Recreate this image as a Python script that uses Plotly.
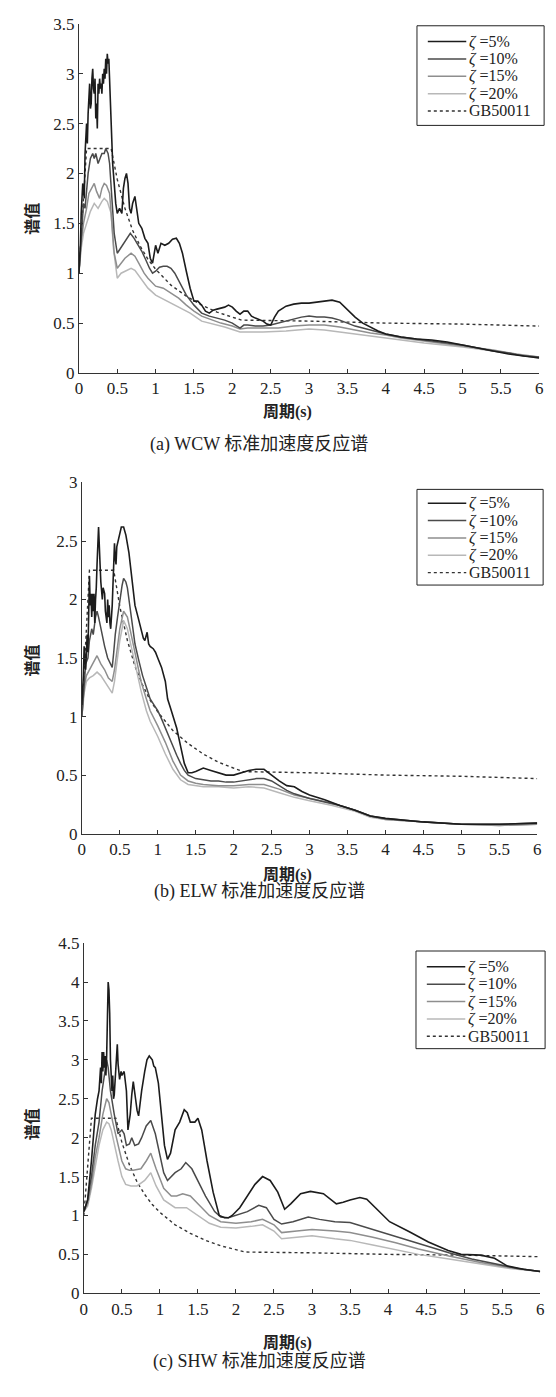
import plotly.graph_objects as go

# ---- Spectral values (period T in s, normalised spectral value) ----
# (a) WCW
WCW_5 = [(0,1.0),(0.02,1.3),(0.03,1.6),(0.05,1.9),(0.07,1.75),(0.08,2.2),(0.1,2.5),(0.11,2.3),(0.12,2.6),(0.13,2.75),
         (0.14,2.9),(0.15,2.65),(0.16,2.7),(0.17,2.95),(0.18,3.05),(0.19,2.85),(0.2,2.8),(0.21,2.95),(0.22,2.55),(0.23,2.7),
         (0.24,2.45),(0.25,2.9),(0.26,2.8),(0.27,2.95),(0.28,2.85),(0.29,2.9),(0.3,2.8),(0.31,3.0),(0.32,2.9),(0.33,3.05),
         (0.34,2.95),(0.35,3.15),(0.36,3.0),(0.37,3.2),(0.38,3.1),(0.39,3.15),(0.4,2.9),(0.42,2.6),(0.44,2.1),(0.46,1.9),
         (0.48,1.7),(0.5,1.6),(0.53,1.65),(0.56,1.6),(0.58,1.85),(0.6,1.95),(0.62,2.0),(0.64,1.9),(0.66,1.65),(0.68,1.6),
         (0.7,1.7),(0.73,1.77),(0.75,1.65),(0.78,1.5),(0.82,1.45),(0.86,1.35),(0.9,1.3),(0.93,1.15),(0.96,1.1),(0.98,1.2),
         (1.0,1.28),(1.03,1.2),(1.07,1.3),(1.12,1.28),(1.17,1.3),(1.22,1.34),(1.27,1.35),(1.31,1.3),(1.35,1.2),(1.4,1.02),
         (1.45,0.85),(1.5,0.72),(1.55,0.72),(1.6,0.68),(1.65,0.62),(1.7,0.6),(1.75,0.63),(1.8,0.64),(1.9,0.66),(1.95,0.68),
         (2.0,0.66),(2.05,0.62),(2.1,0.59),(2.15,0.62),(2.2,0.62),(2.25,0.57),(2.3,0.55),(2.4,0.52),(2.45,0.49),(2.5,0.48),
         (2.55,0.56),(2.6,0.62),(2.7,0.67),(2.8,0.69),(2.9,0.7),(3.0,0.7),(3.1,0.71),(3.2,0.72),(3.3,0.73),(3.4,0.71),
         (3.5,0.63),(3.6,0.56),(3.7,0.5),(3.8,0.46),(3.9,0.42),(4.0,0.39),(4.2,0.36),(4.4,0.34),(4.6,0.33),(4.8,0.31),
         (5.0,0.28),(5.2,0.25),(5.4,0.22),(5.6,0.19),(5.8,0.17),(6.0,0.15)]
WCW_10 = [(0,1.0),(0.03,1.4),(0.06,1.7),(0.08,1.65),(0.1,1.85),(0.12,2.0),(0.15,2.15),(0.18,2.2),(0.2,2.15),(0.22,2.2),
          (0.25,2.1),(0.28,2.15),(0.3,2.2),(0.33,2.2),(0.35,2.25),(0.38,2.2),(0.4,2.1),(0.43,1.75),(0.46,1.4),(0.5,1.2),
          (0.54,1.25),(0.58,1.3),(0.62,1.35),(0.67,1.4),(0.72,1.35),(0.76,1.3),(0.82,1.22),(0.88,1.12),(0.92,1.05),(0.96,1.0),
          (1.0,1.02),(1.05,1.06),(1.1,1.07),(1.15,1.07),(1.2,1.05),(1.25,1.0),(1.3,0.93),(1.35,0.85),(1.4,0.78),(1.5,0.68),
          (1.6,0.6),(1.7,0.57),(1.8,0.55),(1.9,0.53),(2.0,0.5),(2.1,0.45),(2.15,0.48),(2.2,0.48),(2.3,0.47),(2.4,0.47),
          (2.5,0.48),(2.6,0.5),(2.7,0.52),(2.8,0.54),(2.9,0.56),(3.0,0.57),(3.1,0.56),(3.2,0.56),(3.3,0.55),(3.4,0.53),
          (3.5,0.5),(3.6,0.47),(3.7,0.45),(3.8,0.43),(3.9,0.41),(4.0,0.39),(4.2,0.36),(4.4,0.34),(4.6,0.32),(4.8,0.3),
          (5.0,0.28),(5.2,0.25),(5.4,0.22),(5.6,0.2),(5.8,0.17),(6.0,0.16)]
WCW_15 = [(0,1.0),(0.03,1.3),(0.06,1.5),(0.1,1.65),(0.13,1.8),(0.16,1.85),(0.2,1.9),(0.23,1.82),(0.27,1.75),(0.3,1.85),
          (0.33,1.9),(0.36,1.88),(0.4,1.8),(0.43,1.5),(0.46,1.2),(0.5,1.05),(0.55,1.1),(0.6,1.15),(0.68,1.2),(0.73,1.17),
          (0.78,1.1),(0.85,1.0),(0.9,0.95),(1.0,0.87),(1.1,0.85),(1.2,0.8),(1.3,0.75),(1.4,0.68),(1.5,0.62),(1.6,0.57),
          (1.7,0.54),(1.85,0.5),(2.0,0.47),(2.1,0.44),(2.2,0.45),(2.4,0.45),(2.6,0.45),(2.8,0.47),(3.0,0.48),(3.2,0.48),
          (3.4,0.46),(3.6,0.43),(3.8,0.4),(4.0,0.38),(4.2,0.35),(4.4,0.33),(4.6,0.31),(4.9,0.28),(5.2,0.25),(5.4,0.23),
          (5.7,0.19),(6.0,0.16)]
WCW_20 = [(0,1.0),(0.03,1.25),(0.06,1.4),(0.1,1.5),(0.15,1.62),(0.2,1.7),(0.25,1.65),(0.3,1.72),(0.33,1.75),(0.37,1.72),
          (0.42,1.6),(0.45,1.25),(0.5,0.95),(0.55,1.0),(0.6,1.02),(0.68,1.05),(0.73,1.03),(0.78,0.98),(0.9,0.85),(1.0,0.78),
          (1.1,0.74),(1.2,0.7),(1.3,0.66),(1.45,0.6),(1.6,0.52),(1.75,0.49),(1.9,0.46),(2.1,0.41),(2.25,0.41),(2.4,0.41),
          (2.7,0.42),(3.0,0.44),(3.2,0.43),(3.4,0.41),(3.6,0.39),(3.8,0.37),(4.0,0.35),(4.5,0.3),(5.0,0.26),(5.5,0.21),
          (6.0,0.15)]

# (b) ELW
ELW_5 = [(0,1.1),(0.02,1.35),(0.03,1.6),(0.05,1.4),(0.07,1.7),(0.08,1.55),(0.1,2.2),(0.11,1.95),(0.12,2.05),(0.13,1.85),
         (0.14,2.05),(0.15,1.9),(0.16,2.05),(0.17,1.8),(0.18,2.0),(0.19,2.1),(0.2,2.3),(0.22,2.62),(0.24,2.3),(0.25,2.15),
         (0.27,2.0),(0.28,2.1),(0.3,2.05),(0.31,1.9),(0.33,1.8),(0.34,2.0),(0.35,1.85),(0.36,1.95),(0.37,1.8),(0.38,1.75),
         (0.4,1.95),(0.41,2.1),(0.43,2.48),(0.44,2.35),(0.45,2.3),(0.46,2.45),(0.48,2.5),(0.5,2.55),(0.52,2.62),(0.55,2.62),
         (0.58,2.55),(0.62,2.4),(0.66,2.15),(0.7,1.95),(0.74,1.85),(0.78,1.75),(0.81,1.67),(0.83,1.65),(0.86,1.72),(0.88,1.62),
         (0.9,1.6),(0.94,1.58),(0.97,1.55),(1.0,1.5),(1.05,1.42),(1.1,1.3),(1.13,1.15),(1.17,1.07),(1.2,1.0),(1.25,0.9),
         (1.3,0.75),(1.35,0.6),(1.4,0.52),(1.45,0.52),(1.5,0.53),(1.6,0.56),(1.7,0.54),(1.8,0.52),(1.9,0.5),(2.0,0.5),
         (2.1,0.52),(2.2,0.54),(2.3,0.55),(2.4,0.55),(2.5,0.5),(2.6,0.45),(2.7,0.41),(2.8,0.4),(2.9,0.36),(3.0,0.33),
         (3.2,0.29),(3.4,0.24),(3.6,0.2),(3.8,0.15),(4.0,0.13),(4.5,0.1),(5.0,0.08),(5.5,0.08),(6.0,0.09)]
ELW_10 = [(0,1.0),(0.03,1.3),(0.05,1.45),(0.08,1.5),(0.1,1.65),(0.13,1.75),(0.15,1.7),(0.18,1.85),(0.2,1.9),(0.22,1.85),
          (0.25,1.75),(0.28,1.65),(0.3,1.6),(0.34,1.5),(0.38,1.45),(0.4,1.42),(0.42,1.55),(0.44,1.7),(0.47,1.85),(0.5,2.0),
          (0.53,2.12),(0.55,2.18),(0.58,2.15),(0.6,2.1),(0.63,1.95),(0.66,1.8),(0.7,1.62),(0.75,1.48),(0.8,1.35),(0.85,1.25),
          (0.9,1.15),(0.95,1.1),(1.0,1.05),(1.05,0.98),(1.1,0.9),(1.15,0.82),(1.2,0.75),(1.25,0.67),(1.3,0.6),(1.35,0.54),
          (1.4,0.5),(1.5,0.47),(1.6,0.46),(1.7,0.45),(1.8,0.45),(1.9,0.44),(2.0,0.44),(2.1,0.45),(2.2,0.46),(2.3,0.47),
          (2.4,0.47),(2.5,0.45),(2.6,0.41),(2.7,0.37),(2.8,0.34),(2.9,0.32),(3.0,0.3),(3.2,0.27),(3.4,0.24),(3.6,0.2),
          (3.8,0.15),(4.0,0.13),(4.5,0.1),(5.0,0.08),(5.5,0.08),(6.0,0.09)]
ELW_15 = [(0,1.0),(0.03,1.25),(0.06,1.35),(0.1,1.4),(0.15,1.45),(0.2,1.52),(0.25,1.45),(0.3,1.4),(0.35,1.33),(0.4,1.3),
          (0.43,1.4),(0.47,1.6),(0.5,1.75),(0.55,1.9),(0.6,1.85),(0.65,1.7),(0.7,1.55),(0.78,1.3),(0.85,1.15),(0.9,1.05),
          (1.0,0.92),(1.1,0.78),(1.2,0.62),(1.3,0.5),(1.4,0.45),(1.5,0.43),(1.6,0.42),(1.8,0.41),(2.0,0.41),(2.2,0.42),
          (2.4,0.42),(2.6,0.38),(2.8,0.33),(3.0,0.3),(3.3,0.26),(3.6,0.2),(3.8,0.15),(4.0,0.12),(4.5,0.1),(5.0,0.08),
          (5.5,0.07),(6.0,0.08)]
ELW_20 = [(0,1.0),(0.03,1.2),(0.06,1.3),(0.1,1.33),(0.15,1.35),(0.2,1.38),(0.25,1.35),(0.3,1.3),(0.35,1.25),(0.4,1.2),
          (0.43,1.3),(0.47,1.5),(0.5,1.65),(0.55,1.82),(0.6,1.75),(0.65,1.6),(0.7,1.45),(0.78,1.22),(0.85,1.05),(0.9,0.96),
          (1.0,0.83),(1.1,0.68),(1.2,0.55),(1.3,0.46),(1.4,0.42),(1.6,0.4),(1.8,0.4),(2.0,0.39),(2.2,0.4),(2.4,0.39),
          (2.6,0.35),(2.8,0.31),(3.0,0.28),(3.3,0.24),(3.6,0.19),(3.8,0.14),(4.0,0.12),(4.5,0.1),(5.0,0.08),(5.5,0.07),
          (6.0,0.08)]

# (c) SHW
SHW_5 = [(0,1.05),(0.05,1.2),(0.1,1.7),(0.13,2.1),(0.15,2.3),(0.18,2.5),(0.2,2.6),(0.22,2.9),(0.23,2.7),(0.24,3.1),
         (0.25,2.85),(0.26,3.1),(0.27,2.9),(0.28,3.05),(0.29,2.8),(0.3,3.05),(0.31,3.5),(0.32,4.0),(0.33,3.9),(0.34,3.6),
         (0.35,3.0),(0.36,2.7),(0.37,2.6),(0.38,2.8),(0.39,2.5),(0.4,2.55),(0.42,2.9),(0.44,3.2),(0.45,2.95),(0.47,2.75),
         (0.49,2.85),(0.5,2.8),(0.53,2.85),(0.56,2.6),(0.58,2.1),(0.61,2.3),(0.63,2.55),(0.65,2.72),(0.68,2.5),(0.7,2.35),
         (0.72,2.28),(0.74,2.45),(0.76,2.6),(0.8,2.85),(0.83,3.0),(0.86,3.05),(0.9,3.0),(0.92,2.92),(0.94,2.9),(0.98,2.7),
         (1.02,2.3),(1.06,1.9),(1.1,1.72),(1.14,1.8),(1.2,2.1),(1.26,2.2),(1.32,2.36),(1.36,2.32),(1.4,2.2),(1.46,2.2),
         (1.5,2.25),(1.55,2.1),(1.62,1.7),(1.7,1.3),(1.78,1.0),(1.85,0.97),(1.9,0.97),(1.95,1.0),(2.05,1.1),(2.15,1.25),
         (2.25,1.4),(2.35,1.5),(2.45,1.45),(2.55,1.3),(2.64,1.08),(2.72,1.15),(2.85,1.28),(2.98,1.31),(3.15,1.28),(3.32,1.15),
         (3.41,1.17),(3.5,1.2),(3.63,1.23),(3.72,1.21),(3.8,1.13),(3.89,1.04),(4.02,0.92),(4.28,0.79),(4.53,0.66),(4.79,0.55),
         (4.96,0.5),(5.22,0.49),(5.4,0.45),(5.57,0.35),(5.78,0.31),(6.0,0.28)]
SHW_10 = [(0,1.05),(0.05,1.2),(0.1,1.5),(0.15,1.9),(0.2,2.2),(0.24,2.6),(0.27,2.8),(0.3,3.0),(0.32,2.9),(0.35,2.6),
          (0.4,2.3),(0.45,2.05),(0.5,2.1),(0.53,2.05),(0.56,1.9),(0.6,1.92),(0.63,2.0),(0.67,1.9),(0.72,1.92),(0.76,2.0),
          (0.82,2.15),(0.88,2.22),(0.94,2.05),(1.0,1.75),(1.05,1.55),(1.1,1.45),(1.15,1.5),(1.2,1.55),(1.28,1.6),(1.34,1.68),
          (1.42,1.6),(1.5,1.45),(1.6,1.25),(1.72,1.05),(1.8,0.98),(1.9,0.97),(2.0,1.0),(2.15,1.05),(2.3,1.13),(2.4,1.1),
          (2.5,0.95),(2.6,0.89),(2.75,0.92),(2.95,0.98),(3.1,0.95),(3.3,0.92),(3.5,0.91),(3.7,0.85),(3.95,0.78),(4.2,0.7),
          (4.5,0.62),(4.8,0.52),(5.1,0.44),(5.4,0.38),(5.7,0.32),(6.0,0.28)]
SHW_15 = [(0,1.05),(0.05,1.15),(0.1,1.4),(0.15,1.75),(0.2,2.0),(0.25,2.3),(0.3,2.5),(0.33,2.45),(0.38,2.2),(0.45,1.9),
          (0.5,1.7),(0.55,1.6),(0.6,1.58),(0.65,1.58),(0.75,1.6),(0.82,1.7),(0.88,1.8),(0.95,1.6),(1.05,1.35),(1.15,1.25),
          (1.22,1.25),(1.3,1.28),(1.4,1.25),(1.5,1.15),(1.65,1.0),(1.8,0.92),(2.0,0.9),(2.2,0.92),(2.35,0.95),(2.5,0.88),
          (2.6,0.78),(2.8,0.8),(3.0,0.82),(3.3,0.8),(3.5,0.78),(3.8,0.72),(4.1,0.65),(4.4,0.57),(4.8,0.48),(5.2,0.4),
          (5.6,0.33),(6.0,0.28)]
SHW_20 = [(0,1.05),(0.05,1.12),(0.1,1.35),(0.15,1.65),(0.2,1.9),(0.25,2.1),(0.3,2.2),(0.33,2.18),(0.36,2.1),(0.45,1.7),
          (0.5,1.5),(0.55,1.4),(0.62,1.38),(0.7,1.38),(0.8,1.45),(0.88,1.55),(0.95,1.38),(1.05,1.2),(1.2,1.1),(1.35,1.1),
          (1.5,1.0),(1.65,0.9),(1.8,0.85),(2.0,0.84),(2.2,0.86),(2.35,0.88),(2.5,0.8),(2.6,0.7),(2.8,0.72),(3.0,0.74),
          (3.3,0.7),(3.5,0.68),(3.8,0.62),(4.1,0.56),(4.4,0.5),(4.8,0.44),(5.2,0.38),(5.6,0.32),(6.0,0.28)]

# GB50011 code design spectrum (same in all panels)
GB50011 = [(0,1.0),(0.1,2.25),(0.42,2.25),(0.45,2.13),(0.5,1.94),(0.6,1.65),(0.7,1.43),(0.8,1.27),(0.9,1.14),
           (1.0,1.04),(1.2,0.88),(1.4,0.77),(1.6,0.68),(1.8,0.61),(2.0,0.56),(2.12,0.53),(3.0,0.52),(4.0,0.5),
           (5.0,0.49),(6.0,0.47)]

SERIES_NAMES = ["<i>ζ</i> =5%", "<i>ζ</i> =10%", "<i>ζ</i> =15%", "<i>ζ</i> =20%", "GB50011"]
X_TICKS = [0, 0.5, 1, 1.5, 2, 2.5, 3, 3.5, 4, 4.5, 5, 5.5, 6]
Y_MAX = [3.5, 3.0, 4.5]
CAPTIONS = ["(a) WCW 标准加速度反应谱", "(b) ELW 标准加速度反应谱", "(c) SHW 标准加速度反应谱"]
X_TITLE = "周期(s)"
Y_TITLE = "谱值"

PANELS = [
    [WCW_5, WCW_10, WCW_15, WCW_20, GB50011],
    [ELW_5, ELW_10, ELW_15, ELW_20, GB50011],
    [SHW_5, SHW_10, SHW_15, SHW_20, GB50011],
]

W, H = 556, 1397
# plot-area boxes in pixels: (left, right, top, bottom)
BOXES = [(76, 543, 15, 369), (79, 541, 480, 836), (81, 544, 947, 1302)]
# legend boxes in pixels: (left, top, width, height, first row offset, row pitch)
LEGEND_BOXES = [(419, 17, 129, 101, 16, 17.6), (419, 487, 128, 97, 14, 17.6), (418, 955, 131, 99, 16, 17.6)]
XTITLE_Y = [409, 878, 1352]
CAPTION_Y = [441, 895, 1371]
YTITLE_Y = [213, 661, 1131]

STYLES = [
    dict(color="#1c1c1c", width=1.6, dash="solid"),
    dict(color="#4a4a4a", width=1.5, dash="solid"),
    dict(color="#8e8e8e", width=1.5, dash="solid"),
    dict(color="#b8b8b8", width=1.5, dash="solid"),
    dict(color="#333333", width=1.4, dash="dot"),
]

SERIF = "Liberation Serif, Times New Roman, serif"
MIXED = "Liberation Serif, Noto Sans CJK SC, serif"
INK = "#222222"

fig = go.Figure()
layout = dict(
    width=W, height=H, margin=dict(l=0, r=0, t=0, b=0),
    paper_bgcolor="white", plot_bgcolor="white", showlegend=False,
    annotations=[], shapes=[],
)


def px_x(v):
    return v / W


def px_y(v):
    return 1 - v / H


for i, series in enumerate(PANELS):
    n = "" if i == 0 else str(i + 1)
    xa, ya = "x" + n, "y" + n
    # draw lighter curves first so the darker ones stay on top
    for j in reversed(range(len(series))):
        pts = series[j]
        fig.add_trace(go.Scatter(
            x=[p[0] for p in pts], y=[p[1] for p in pts],
            mode="lines", name=SERIES_NAMES[j], line=STYLES[j],
            xaxis=xa, yaxis=ya, hoverinfo="skip",
        ))
    l, r, t, b = BOXES[i]
    axis_common = dict(
        showline=True, linecolor="#333333", linewidth=1, mirror=False,
        ticks="inside", ticklen=4, tickcolor="#333333", showgrid=False, zeroline=False,
        tickfont=dict(family=SERIF, size=17, color=INK),
    )
    layout["xaxis" + n] = dict(
        domain=[px_x(l), px_x(r)], range=[0, 6], tickvals=X_TICKS,
        anchor=ya, **axis_common,
    )
    layout["yaxis" + n] = dict(
        domain=[px_y(b), px_y(t)], range=[0, Y_MAX[i]], dtick=0.5,
        anchor=xa, **axis_common,
    )

    # boxed key: frame, line samples and labels
    lx, ly, lw, lh, off, pitch = LEGEND_BOXES[i]
    layout["shapes"].append(dict(
        type="rect", xref="paper", yref="paper",
        x0=px_x(lx), x1=px_x(lx + lw), y0=px_y(ly + lh), y1=px_y(ly),
        line=dict(color=INK, width=1), fillcolor="white", layer="above",
    ))
    for j, name in enumerate(SERIES_NAMES):
        yy = ly + off + j * pitch
        layout["shapes"].append(dict(
            type="line", xref="paper", yref="paper",
            x0=px_x(lx + 11), x1=px_x(lx + 50), y0=px_y(yy), y1=px_y(yy),
            line=STYLES[j], layer="above",
        ))
        layout["annotations"].append(dict(
            text=name, x=px_x(lx + 51), y=px_y(yy), xref="paper", yref="paper",
            showarrow=False, xanchor="left", yanchor="middle",
            font=dict(family=SERIF, size=16, color=INK),
        ))

    layout["annotations"] += [
        dict(text="<b>" + Y_TITLE + "</b>", x=px_x(27), y=px_y(YTITLE_Y[i]), xref="paper", yref="paper",
             textangle=-90, showarrow=False, xanchor="center", yanchor="middle",
             font=dict(family="Noto Sans CJK SC", size=16, color=INK)),
        dict(text="<b>" + X_TITLE + "</b>", x=px_x(288), y=px_y(XTITLE_Y[i]), xref="paper", yref="paper",
             showarrow=False, xanchor="center", yanchor="middle",
             font=dict(family=MIXED, size=16, color=INK)),
        dict(text=CAPTIONS[i], x=px_x(259), y=px_y(CAPTION_Y[i]), xref="paper", yref="paper",
             showarrow=False, xanchor="center", yanchor="middle",
             font=dict(family=MIXED, size=18, color=INK)),
    ]

fig.update_layout(**layout)
fig.write_html("out.html")
